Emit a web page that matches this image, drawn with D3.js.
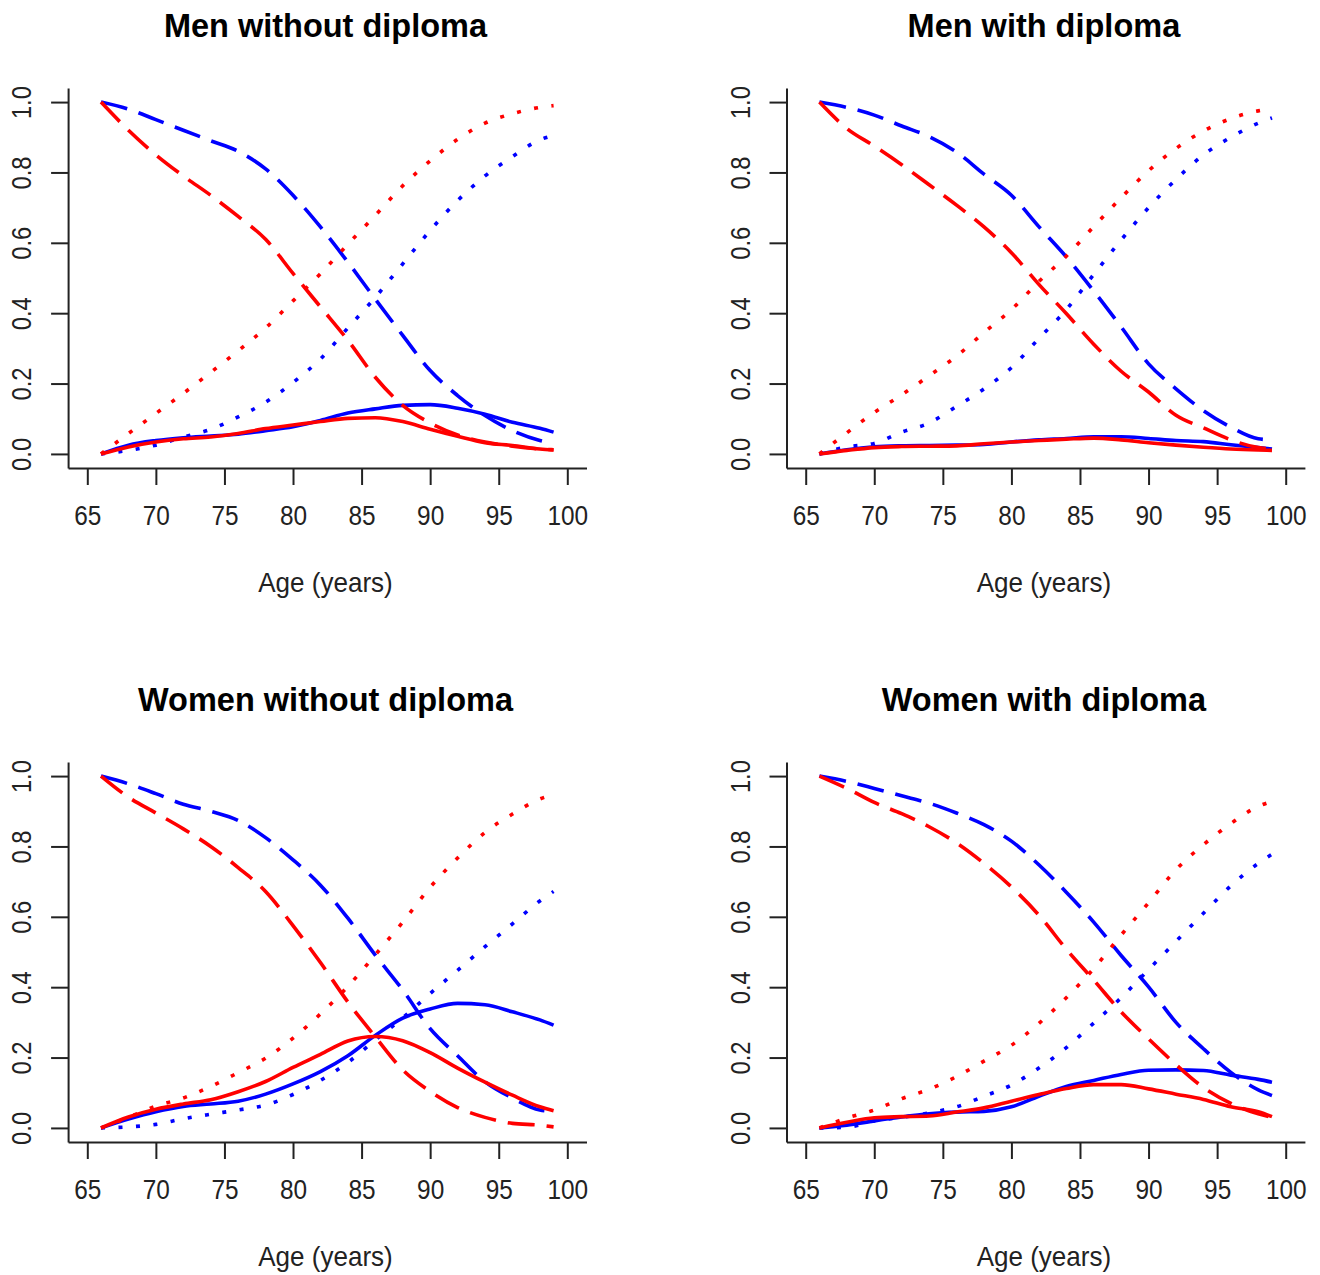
<!DOCTYPE html>
<html><head><meta charset="utf-8">
<script src="https://cdn.jsdelivr.net/npm/d3@7"></script>
<style>body{margin:0;background:#fff}</style>
</head><body><svg id="chart" width="1320" height="1275"></svg>
<script>
const ages = [66,68,70,72,74,76,78,80,82,84,86,88,90,92,94,96,98,99];
const xTicks = [65,70,75,80,85,90,95,100];
const yTicks = [0,0.2,0.4,0.6,0.8,1.0];
const panelTitles = ["Men without diploma","Men with diploma","Women without diploma","Women with diploma"];
const xLabel = "Age (years)";

// Men without diploma
const menNoDipBlueDashed = [1.0,0.98,0.95,0.92,0.89,0.86,0.81,0.735,0.645,0.545,0.44,0.337,0.237,0.166,0.109,0.066,0.038,0.03];
const menNoDipRedDashed  = [1.0,0.92,0.85,0.79,0.735,0.675,0.61,0.513,0.418,0.323,0.218,0.138,0.088,0.054,0.034,0.022,0.014,0.012];
const menNoDipRedDotted  = [0,0.058,0.115,0.172,0.232,0.293,0.358,0.435,0.512,0.596,0.678,0.762,0.833,0.894,0.94,0.967,0.985,0.99];
const menNoDipBlueDotted = [0,0.01,0.025,0.048,0.07,0.105,0.147,0.203,0.27,0.358,0.445,0.54,0.635,0.72,0.79,0.845,0.893,0.905];
const menNoDipBlueSolid  = [0,0.025,0.038,0.046,0.051,0.056,0.066,0.077,0.095,0.116,0.128,0.138,0.14,0.13,0.113,0.09,0.073,0.062];
const menNoDipRedSolid   = [0,0.02,0.034,0.043,0.048,0.058,0.072,0.082,0.092,0.101,0.103,0.092,0.07,0.05,0.032,0.024,0.014,0.011];

// Men with diploma
const menDipBlueDashed = [1.0,0.985,0.963,0.932,0.902,0.858,0.795,0.735,0.646,0.56,0.463,0.361,0.256,0.185,0.123,0.076,0.043,0.04];
const menDipRedDashed  = [1.0,0.925,0.875,0.822,0.765,0.707,0.645,0.572,0.482,0.399,0.312,0.235,0.176,0.11,0.074,0.04,0.018,0.014];
const menDipRedDotted  = [0,0.06,0.118,0.168,0.222,0.278,0.345,0.41,0.49,0.562,0.646,0.728,0.805,0.868,0.918,0.953,0.975,0.98];
const menDipBlueDotted = [0,0.02,0.03,0.062,0.088,0.135,0.185,0.245,0.328,0.41,0.51,0.608,0.7,0.78,0.85,0.9,0.94,0.955];
const menDipBlueSolid  = [0,0.012,0.02,0.023,0.024,0.025,0.027,0.034,0.04,0.044,0.049,0.049,0.044,0.038,0.035,0.026,0.018,0.014];
const menDipRedSolid   = [0,0.01,0.018,0.021,0.022,0.023,0.029,0.034,0.038,0.042,0.045,0.04,0.032,0.025,0.019,0.014,0.011,0.01];

// Women without diploma
const womenNoDipBlueDashed = [1.0,0.978,0.95,0.92,0.9,0.874,0.825,0.762,0.69,0.596,0.491,0.392,0.282,0.205,0.131,0.085,0.051,0.047];
const womenNoDipRedDashed  = [1.0,0.94,0.895,0.85,0.8,0.74,0.672,0.575,0.47,0.358,0.259,0.165,0.104,0.058,0.03,0.013,0.008,0.003];
const womenNoDipRedDotted  = [0,0.03,0.062,0.085,0.118,0.157,0.198,0.255,0.324,0.402,0.492,0.585,0.684,0.767,0.84,0.892,0.935,0.948];
const womenNoDipBlueDotted = [0,0.003,0.01,0.026,0.039,0.051,0.065,0.095,0.135,0.186,0.25,0.313,0.382,0.448,0.515,0.58,0.645,0.672];
const womenNoDipBlueSolid  = [0,0.025,0.046,0.061,0.068,0.076,0.096,0.125,0.16,0.205,0.263,0.312,0.338,0.354,0.35,0.33,0.307,0.292];
const womenNoDipRedSolid   = [0,0.031,0.053,0.068,0.08,0.103,0.132,0.172,0.209,0.247,0.26,0.248,0.214,0.17,0.13,0.093,0.06,0.049];

// Women with diploma
const womenDipBlueDashed = [1.0,0.985,0.965,0.944,0.923,0.895,0.862,0.815,0.748,0.67,0.585,0.49,0.401,0.3,0.225,0.158,0.108,0.092];
const womenDipRedDashed  = [1.0,0.965,0.925,0.893,0.856,0.81,0.752,0.685,0.605,0.508,0.42,0.33,0.253,0.18,0.115,0.07,0.04,0.03];
const womenDipRedDotted  = [0,0.028,0.051,0.083,0.11,0.146,0.19,0.235,0.297,0.37,0.453,0.548,0.64,0.734,0.805,0.865,0.914,0.928];
const womenDipBlueDotted = [0,0.002,0.02,0.03,0.043,0.06,0.09,0.122,0.17,0.228,0.298,0.37,0.45,0.53,0.61,0.688,0.752,0.778];
const womenDipBlueSolid  = [0,0.008,0.02,0.031,0.04,0.045,0.047,0.06,0.09,0.118,0.135,0.152,0.164,0.165,0.163,0.15,0.138,0.13];
const womenDipRedSolid   = [0,0.016,0.029,0.032,0.034,0.045,0.057,0.076,0.095,0.112,0.123,0.123,0.111,0.096,0.081,0.06,0.046,0.032];

const panelSeries = [
  [menNoDipBlueDashed, menNoDipBlueDotted, menNoDipBlueSolid, menNoDipRedDashed, menNoDipRedDotted, menNoDipRedSolid],
  [menDipBlueDashed, menDipBlueDotted, menDipBlueSolid, menDipRedDashed, menDipRedDotted, menDipRedSolid],
  [womenNoDipBlueDashed, womenNoDipBlueDotted, womenNoDipBlueSolid, womenNoDipRedDashed, womenNoDipRedDotted, womenNoDipRedSolid],
  [womenDipBlueDashed, womenDipBlueDotted, womenDipBlueSolid, womenDipRedDashed, womenDipRedDotted, womenDipRedSolid]
];
const seriesColors = ["#0000ff","#0000ff","#0000ff","#ff0000","#ff0000","#ff0000"];
const seriesDash = ["27 12","4 13.5",null,"27 12","4 13.5",null];

const offsets = [[0,0],[718.4,0],[0,674],[718.4,674]];
const font = "'Liberation Sans', Arial, Helvetica, sans-serif";
const svg = d3.select("#chart");

panelSeries.forEach((series, p) => {
  const [ox, oy] = offsets[p];
  const x = d3.scaleLinear().domain([63.6, 101.4]).range([68.1 + ox, 586.5 + ox]);
  const y = d3.scaleLinear().domain([-0.04, 1.04]).range([468 + oy, 88 + oy]);
  const g = svg.append("g");

  // axes
  const xa = g.append("g").attr("transform", `translate(0,${y(-0.04)})`)
    .call(d3.axisBottom(x).tickValues(xTicks).tickSize(17).tickSizeOuter(0).tickFormat(d3.format("d")));
  xa.selectAll("text").attr("y", 57).attr("dy", 0)
    .attr("transform", "scale(0.87,1)")
    .style("font-size", "28px").style("font-family", font).attr("fill", "#222");

  const ya = g.append("g").attr("transform", `translate(${x(63.6)},0)`)
    .call(d3.axisLeft(y).tickValues(yTicks).tickSize(17).tickSizeOuter(0).tickFormat(d3.format(".1f")));
  ya.selectAll("text").attr("x", 0).attr("dy", 0).attr("text-anchor", "middle")
    .attr("transform", "translate(-37,0) rotate(-90) scale(0.85,1)")
    .style("font-size", "28px").style("font-family", font).attr("fill", "#222");

  g.selectAll(".domain, .tick line").attr("stroke", "#222").attr("stroke-width", 2);

  // lines
  const line = d3.line().x((d, i) => x(ages[i])).y(d => y(d)).curve(d3.curveMonotoneX);
  series.forEach((vals, s) => {
    const path = g.append("path").datum(vals)
      .attr("d", line)
      .attr("fill", "none")
      .attr("stroke", seriesColors[s])
      .attr("stroke-width", 3.6)
      .attr("stroke-linecap", "butt")
      .attr("stroke-linejoin", "round");
    if (seriesDash[s]) path.attr("stroke-dasharray", seriesDash[s]);
  });

  // title
  g.append("text").attr("x", 325.5 + ox).attr("y", 36.7 + oy)
    .attr("text-anchor", "middle").style("font-family", font)
    .style("font-size", "32.5px").style("font-weight", "bold").attr("fill", "#000")
    .text(panelTitles[p]);

  // x label
  g.append("text").attr("transform", `translate(${325.5 + ox},${591.7 + oy}) scale(0.93,1)`)
    .attr("text-anchor", "middle").style("font-family", font)
    .style("font-size", "28px").attr("fill", "#222")
    .text(xLabel);
});
</script>
</body></html>
